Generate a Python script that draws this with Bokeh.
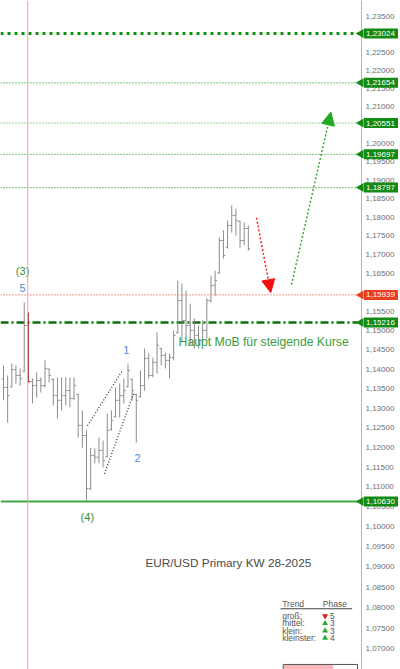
import math
from bokeh.plotting import figure
from bokeh.models import (Range1d, FixedTicker, CustomJSTickFormatter, Span,
                          Arrow, NormalHead, ColumnDataSource)
from bokeh.core.properties import value
from bokeh.embed import file_html
from bokeh.resources import INLINE

# ---------------- data ----------------
week = list(range(60))
open_ = [1.1375, 1.1353, 1.1355, 1.1399, 1.1384, 1.1395, 1.1514, 1.1368, 1.1358, 1.1371,
         1.1358, 1.1400, 1.1374, 1.1332, 1.1320, 1.1332, 1.1345, 1.1325, 1.1335, 1.1256,
         1.1230, 1.1096, 1.1179, 1.1175, 1.1192, 1.1176, 1.1245, 1.1278, 1.1320, 1.1332,
         1.1355, 1.1374, 1.1335, 1.1330, 1.1358, 1.1428, 1.1384, 1.1418, 1.1454, 1.1436,
         1.1423, 1.1430, 1.1495, 1.1579, 1.1527, 1.1514, 1.1501, 1.1488, 1.1475, 1.1501,
         1.1579, 1.1619, 1.1652, 1.1738, 1.1720, 1.1778, 1.1805, 1.1789, 1.1738, 1.1770]
high = [1.1410, 1.1384, 1.1415, 1.1410, 1.1402, 1.1574, 1.1548, 1.1376, 1.1392, 1.1379,
        1.1423, 1.1402, 1.1376, 1.1379, 1.1379, 1.1379, 1.1379, 1.1379, 1.1337, 1.1294,
        1.1243, 1.1199, 1.1197, 1.1225, 1.1217, 1.1286, 1.1294, 1.1353, 1.1363, 1.1376,
        1.1415, 1.1376, 1.1337, 1.1397, 1.1454, 1.1441, 1.1430, 1.1496, 1.1456, 1.1443,
        1.1441, 1.1501, 1.1632, 1.1624, 1.1606, 1.1571, 1.1532, 1.1514, 1.1527, 1.1585,
        1.1645, 1.1658, 1.1746, 1.1765, 1.1791, 1.1832, 1.1823, 1.1791, 1.1786, 1.1778]
low = [1.1320, 1.1263, 1.1353, 1.1363, 1.1358, 1.1392, 1.1366, 1.1312, 1.1327, 1.1340,
       1.1353, 1.1366, 1.1307, 1.1273, 1.1294, 1.1307, 1.1302, 1.1320, 1.1225, 1.1199,
       1.1065, 1.1091, 1.1159, 1.1159, 1.1149, 1.1174, 1.1243, 1.1276, 1.1276, 1.1312,
       1.1353, 1.1320, 1.1212, 1.1327, 1.1345, 1.1376, 1.1379, 1.1389, 1.1410, 1.1402,
       1.1376, 1.1423, 1.1493, 1.1470, 1.1483, 1.1462, 1.1454, 1.1454, 1.1470, 1.1480,
       1.1574, 1.1592, 1.1650, 1.1690, 1.1717, 1.1759, 1.1751, 1.1719, 1.1725, 1.1711]
close = [1.1353, 1.1332, 1.1399, 1.1384, 1.1376, 1.1514, 1.1368, 1.1358, 1.1371, 1.1358,
         1.1402, 1.1384, 1.1332, 1.1320, 1.1332, 1.1345, 1.1325, 1.1358, 1.1256, 1.1230,
         1.1096, 1.1179, 1.1175, 1.1192, 1.1166, 1.1243, 1.1268, 1.1320, 1.1332, 1.1345,
         1.1397, 1.1345, 1.1320, 1.1358, 1.1428, 1.1384, 1.1418, 1.1462, 1.1436, 1.1423,
         1.1430, 1.1488, 1.1579, 1.1527, 1.1514, 1.1501, 1.1488, 1.1475, 1.1501, 1.1579,
         1.1619, 1.1632, 1.1738, 1.1698, 1.1778, 1.1805, 1.1791, 1.1738, 1.1770, 1.1717]
highlight_week = 6

green_levels = [1.21654, 1.20551, 1.19697, 1.18797]
top_level = 1.23024
red_level = 1.15939
mob_level = 1.15216
base_level = 1.10630

tick_values = [round(1.070 + 0.005 * k, 3) for k in range(34)]

trend_names = ["groß:", "mittel:", "klein:", "kleinster:"]
trend_phase = ["5", "3", "3", "4"]
trend_up = [False, True, True, True]

FONT = "Liberation Sans"

# ---------------- figure ----------------
X0, X1 = -0.723, 95.67          # x range (weeks); frame spans full width
AXIS_X = 86.27                  # where the price axis sits
PX = 400.0 / (X1 - X0)          # pixels per week

p = figure(width=400, height=669, output_backend="svg", toolbar_location=None,
           y_axis_type="log", y_axis_location="right", x_axis_location=None,
           x_range=Range1d(X0, X1), y_range=Range1d(1.06493, 1.23949),
           min_border_left=0, min_border_top=0, min_border_bottom=0, min_border_right=0)
p.outline_line_color = None
p.xgrid.visible = False
p.ygrid.visible = False
p.background_fill_color = "white"
p.border_fill_color = "white"

ax = p.yaxis[0]
ax.fixed_location = AXIS_X
ax.ticker = FixedTicker(ticks=tick_values)
ax.formatter = CustomJSTickFormatter(code="return tick.toFixed(5).replace('.', ',');")
ax.major_label_text_font = FONT
ax.major_label_text_font_size = "8px"
ax.major_label_text_color = "#707070"
ax.major_label_standoff = 4
ax.axis_line_color = "#b8b8b8"
ax.major_tick_line_color = None
ax.minor_tick_line_color = None
ax.major_tick_out = 0
ax.major_tick_in = 0
ax.minor_tick_out = 0

# vertical marker line
p.add_layout(Span(location=highlight_week - 0.15, dimension="height",
                  line_color="#f2a0a0", line_width=1))

# horizontal levels (stop at the axis)
def level_line(lv, **kw):
    p.segment(x0=[X0], x1=[AXIS_X], y0=[lv], y1=[lv], **kw)

level_line(top_level, line_color="#109010", line_width=3, line_dash="3 4")
for lv in green_levels:
    level_line(lv, line_color="#2aa02a", line_width=1.2, line_dash="1 2")
level_line(red_level, line_color="#f06050", line_width=1.2, line_dash="1 2")
level_line(mob_level, line_color="#0a6e0a", line_width=2.5, line_dash="8 3 2 3")
level_line(base_level, line_color="#40a840", line_width=2)

# OHLC bars
colors = ["#8b1010" if w == highlight_week else "#8c8c8c" for w in week]
src = ColumnDataSource(dict(
    x=week, o=open_, h=high, l=low, c=close, col=colors,
    xl=[w - 0.45 for w in week], xr=[w + 0.45 for w in week]))
p.segment(x0="x", y0="l", x1="x", y1="h", source=src, line_color="col", line_width=1)
p.segment(x0="xl", y0="o", x1="x", y1="o", source=src, line_color="col", line_width=1)
p.segment(x0="x", y0="c", x1="xr", y1="c", source=src, line_color="col", line_width=1)

# wave counts
p.text(x=[4.6], y=[1.1656], text=["(3)"], text_font=value(FONT), text_font_size="11px",
       text_color="#3a8a3a", text_align="center", text_baseline="middle")
p.text(x=[4.6, 29.6, 32.3], y=[1.1611, 1.1451, 1.1174], text=["5", "1", "2"],
       text_font=value(FONT), text_font_size="11px", text_color="#4a8ed8",
       text_align="center", text_baseline="middle")
p.text(x=[20.2], y=[1.1023], text=["(4)"], text_font=value(FONT), text_font_size="11px",
       text_color="#3a8a3a", text_align="center", text_baseline="middle")

# wedge lines
p.line(x=[20.24, 28.67], y=[1.1255, 1.1397], line_color="#222222", line_width=1.2, line_dash="1 2")
p.line(x=[24.34, 31.33], y=[1.1133, 1.1337], line_color="#222222", line_width=1.2, line_dash="1 2")

# arrows
p.add_layout(Arrow(end=NormalHead(size=13, fill_color="#ee1111", line_color="#ee1111"),
                   x_start=60.96, y_start=1.1799, x_end=64.4, y_end=1.1600,
                   line_color="#ee2222", line_width=1.5, line_dash="2 2"))
p.add_layout(Arrow(end=NormalHead(size=13, fill_color="#22aa22", line_color="#22aa22"),
                   x_start=69.4, y_start=1.1621, x_end=78.9, y_end=1.2085,
                   line_color="#33aa33", line_width=1.5, line_dash="2 2"))

# texts
p.text(x=[42.2], y=[1.1470], text=["Haupt MoB für steigende Kurse"], text_font=value(FONT),
       text_font_size="12.2px", text_color="#3c9c3c", text_align="left", text_baseline="middle")
p.text(x=[34.2], y=[1.0911], text=["EUR/USD Primary KW 28-2025"], text_font=value(FONT),
       text_font_size="11.8px", text_color="#4a4a4a", text_align="left", text_baseline="middle")

# trend table
p.text(x=[67.16, 76.94], y=[1.08093, 1.08093], text=["Trend", "Phase"], text_font=value(FONT),
       text_font_size="8.5px", text_color="#555555", text_align="left", text_baseline="middle")
p.line(x=[66.75, 84.02], y=[1.07971, 1.07971], line_color="#444444", line_width=1)
row_y = [1.07794, 1.07614, 1.07435, 1.07256]
p.text(x=[67.16] * 4, y=row_y, text=trend_names, text_font=value(FONT),
       text_font_size="8.5px", text_color="#555555", text_align="left", text_baseline="middle")
up_y = [row_y[k] for k in range(4) if trend_up[k]]
dn_y = [row_y[k] for k in range(4) if not trend_up[k]]
p.scatter(x=[77.5] * len(up_y), y=up_y, marker="triangle", size=6,
          fill_color="#2eaa2e", line_color=None)
p.scatter(x=[77.5] * len(dn_y), y=dn_y, marker="inverted_triangle", size=6,
          fill_color="#e01818", line_color=None)
p.text(x=[78.7] * 4, y=row_y, text=trend_phase, text_font=value(FONT),
       text_font_size="8.5px", text_color="#555555", text_align="left", text_baseline="middle")
p.quad(left=[67.4], right=[85.3], top=[1.06615], bottom=[1.0600],
       fill_color="white", line_color="#555555", line_width=1)
p.quad(left=[67.6], right=[79.45], top=[1.06600], bottom=[1.0600],
       fill_color="#f6b8b8", line_color=None)

# price tags on the axis
tag_levels = [top_level] + green_levels + [red_level, mob_level, base_level]
tag_colors = ["#138a13"] * 5 + ["#e8401e", "#138a13", "#138a13"]
tag_text = [f"{lv:.5f}".replace(".", ",") for lv in tag_levels]
tsrc = ColumnDataSource(dict(y=tag_levels, col=tag_colors, txt=tag_text))
r1 = p.rect(x=AXIS_X + 19.5 / PX, y="y", width=34 / PX, height=10, height_units="screen",
            fill_color="col", line_color=None, source=tsrc)
r2 = p.scatter(x=AXIS_X - 0.5 / PX, y="y", marker="triangle", angle=math.pi / 2, size=9,
               fill_color="col", line_color=None, source=tsrc)
r3 = p.text(x=AXIS_X + 4.5 / PX, y="y", text="txt", text_font=value(FONT),
            text_font_size="8px", text_color="white", text_align="left",
            text_baseline="middle", source=tsrc)
for r in (r1, r2, r3):
    r.level = "overlay"

open("out.html", "w").write(file_html(p, INLINE))
